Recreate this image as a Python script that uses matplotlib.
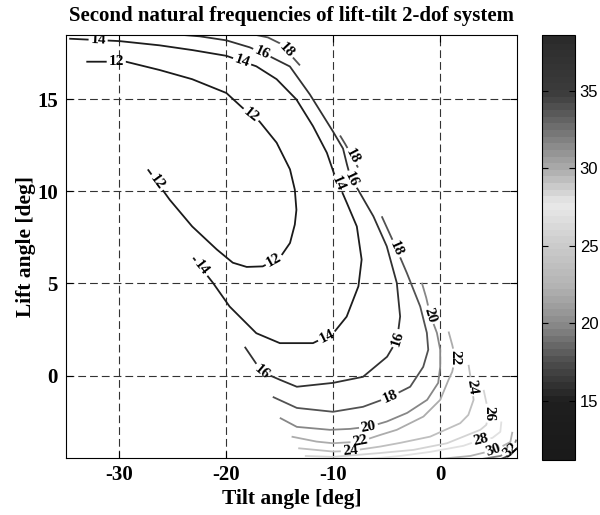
import numpy as np
import matplotlib.pyplot as plt
from matplotlib.contour import ContourSet
from matplotlib.colors import LinearSegmentedColormap, Normalize
from matplotlib.cm import ScalarMappable

plt.rcParams['font.family'] = ['Liberation Serif', 'DejaVu Serif']
plt.rcParams['axes.unicode_minus'] = False

# contour lines, points are (tilt [deg], lift [deg])
levels = [12, 14, 16, 18, 20, 22, 24, 26, 28, 30, 32, 34]

f12 = [[(-33.1, 17.05), (-29.4, 17.05), (-26.25, 16.6), (-23.2, 16.1), (-20.0, 15.35),
        (-18.5, 14.55), (-16.9, 13.8), (-15.3, 12.65), (-14.05, 11.2), (-13.6, 10.1),
        (-13.45, 9.0), (-13.6, 8.2), (-14.05, 7.2), (-15.0, 6.4), (-16.6, 5.93),
        (-18.1, 5.9), (-19.4, 6.13), (-20.9, 6.85), (-23.2, 8.1), (-25.3, 9.55),
        (-27.35, 11.2)]]
f14 = [[(-34.7, 18.3), (-30.0, 18.17), (-26.25, 17.94), (-23.16, 17.68), (-20.0, 17.37),
        (-17.2, 16.8), (-15.3, 16.1), (-13.45, 15.0), (-11.9, 13.55), (-10.6, 12.1),
        (-9.95, 11.0), (-8.75, 9.4), (-7.8, 8.1), (-7.35, 6.3), (-7.65, 4.85),
        (-8.75, 3.2), (-10.0, 2.3), (-11.9, 1.76), (-15.0, 1.76), (-17.2, 2.3),
        (-19.7, 3.75), (-21.25, 5.03), (-23.1, 6.4)]]
f16 = [[(-24.84, 18.54), (-22.5, 18.43), (-20.0, 18.21), (-17.81, 17.83), (-15.94, 17.34),
        (-14.06, 16.79), (-12.19, 15.27), (-10.03, 13.26), (-9.09, 12.33), (-8.72, 11.46),
        (-8.34, 10.65), (-7.69, 10.1), (-6.25, 8.65), (-5.0, 7.02), (-4.06, 5.03),
        (-3.75, 3.21), (-4.03, 1.94), (-4.97, 1.02), (-7.22, -0.07), (-10.03, -0.4),
        (-13.41, -0.61), (-15.0, -0.23), (-16.69, 0.2), (-18.28, 1.56)]]
f18 = [[(-17.53, 18.54), (-16.12, 18.37), (-15.0, 18.05), (-14.34, 17.61), (-13.78, 17.28),
        (-13.12, 16.85)],
       [(-9.37, 13.04), (-8.91, 12.6), (-8.44, 12.12), (-8.06, 11.68), (-7.69, 11.3)],
       [(-5.47, 8.65), (-4.22, 7.06), (-3.12, 5.57), (-1.87, 3.75), (-1.25, 2.32),
        (-1.12, 1.4), (-1.59, 0.47), (-2.81, -0.61), (-4.69, -1.16), (-7.22, -1.7),
        (-10.03, -1.97), (-13.41, -1.76), (-15.66, -1.16)]]
f20 = [[(-1.72, 5.04), (-1.31, 4.23), (-0.94, 3.3), (-0.31, 2.32), (0.0, 1.4),
        (0.0, 0.47), (-0.19, -0.4), (-1.22, -1.32), (-3.09, -2.03), (-5.0, -2.5),
        (-6.56, -2.77), (-8.44, -2.9), (-10.31, -2.95), (-13.41, -2.79), (-15.0, -2.3)]]
f22 = [[(0.78, 2.39), (1.12, 1.67), (1.41, 0.96), (1.12, 0.2), (0.78, -0.23),
        (0.0, -1.32), (-1.57, -2.23), (-4.06, -2.95), (-5.62, -3.23), (-7.5, -3.59),
        (-10.03, -3.68), (-11.56, -3.59), (-13.9, -3.32)]]
f24 = [[(2.65, 0.58), (2.97, -0.6), (3.12, -1.32), (2.63, -2.14), (1.87, -2.59),
        (-0.94, -3.32), (-3.75, -3.66), (-5.62, -3.86), (-8.44, -4.1), (-10.03, -4.13),
        (-13.28, -3.95)]]
f26 = [[(4.06, -0.78), (4.53, -2.05), (4.31, -2.68), (3.75, -2.95), (0.63, -3.68),
        (-2.5, -4.04), (-5.62, -4.21), (-10.03, -4.42), (-12.66, -4.37)]]
f28 = [[(5.72, -2.5), (5.62, -3.06), (4.88, -3.39), (3.75, -3.5), (2.16, -3.82),
        (-0.94, -4.15), (-3.75, -4.37), (-6.56, -4.53)]]
f30 = [[(6.75, -3.06), (6.56, -3.61), (5.16, -4.04), (2.81, -4.37), (0.0, -4.53)]]
f32 = [[(7.12, -3.48), (6.75, -4.04), (5.62, -4.37), (3.75, -4.55)]]
f34 = [[(7.22, -3.92), (6.56, -4.32), (5.62, -4.55)]]

# where the inline labels sit
lab12 = [(-30.3, 16.95), (-17.65, 14.2), (-15.4, 6.1), (-26.7, 10.4)]
lab14 = [(-32.0, 18.15), (-18.6, 16.95), (-9.7, 10.4), (-10.6, 2.1), (-22.4, 5.8)]
lab16 = [(-16.7, 17.5), (-8.4, 10.6), (-4.0, 2.0), (-16.7, 0.2)]
lab18 = [(-14.5, 17.6), (-8.25, 11.9), (-4.1, 6.9), (-4.7, -1.15)]
lab20 = [(-0.9, 3.3), (-6.7, -2.8)]
lab22 = [(1.4, 0.95), (-7.5, -3.6)]
lab24 = [(3.0, -0.6), (-8.4, -4.1)]
lab26 = [(4.5, -2.05)]
lab28 = [(3.8, -3.45)]
lab30 = [(5.0, -4.0)]
lab32 = [(6.6, -4.1)]
lab34 = []

cbar_ticks = [15, 20, 25, 30, 35]
zmin, zmax = 11.2, 38.6

lines = [f12, f14, f16, f18, f20, f22, f24, f26, f28, f30, f32, f34]
labels = [lab12, lab14, lab16, lab18, lab20, lab22, lab24, lab26, lab28, lab30, lab32, lab34]

# grey map: dark at both ends, light around 28
cmap = LinearSegmentedColormap.from_list('mgray', [
    (0.0, (0.10,) * 3), (0.139, (0.12,) * 3), (0.23, (0.30,) * 3), (0.321, (0.54,) * 3),
    (0.41, (0.70,) * 3), (0.504, (0.79,) * 3), (0.58, (0.88,) * 3), (0.60, (0.91,) * 3),
    (0.62, (0.88,) * 3), (0.686, (0.69,) * 3), (0.777, (0.47,) * 3), (0.869, (0.24,) * 3),
    (1.0, (0.17,) * 3)], N=64)
norm = Normalize(zmin, zmax)

fig = plt.figure(figsize=(6, 5.15), dpi=100)
ax = fig.add_axes([0.110, 0.110, 0.752, 0.822])

allsegs = [[np.array(s) for s in segs] for segs in lines]
cs = ContourSet(ax, levels, allsegs, cmap=cmap, norm=norm, linewidths=1.3)

# set up label props once, then put each label on its own level
cs.clabel(manual=[], inline=True, fontsize=11, colors='k', fmt='%d')
cs.labelCValueList = [0] * len(levels)
for i, pts in enumerate(labels):
    cs.labelIndiceList = [i]
    for x, y in pts:
        cs.add_label_near(x, y, inline=True, inline_spacing=2)
for t in cs.labelTexts:
    t.set_fontweight('bold')

ax.set_xlim(-35, 7.2)
ax.set_ylim(-4.5, 18.5)
ax.set_xticks([-30, -20, -10, 0])
ax.set_yticks([0, 5, 10, 15])
ax.grid(True, color='0.2', linestyle=(0, (7, 3.6)), linewidth=0.8)
ax.tick_params(direction='in', top=True, right=True, length=5, labelsize=15)
ax.tick_params(axis='x', pad=5)
ax.tick_params(axis='y', pad=6)
for t in ax.get_xticklabels() + ax.get_yticklabels():
    t.set_fontweight('bold')
ax.set_title('Second natural frequencies of lift-tilt 2-dof system',
             fontsize=15, fontweight='bold', pad=10)
ax.set_xlabel('Tilt angle [deg]', fontsize=15.5, fontweight='bold', labelpad=3)
ax.set_ylabel('Lift angle [deg]', fontsize=15.5, fontweight='bold', labelpad=1)

cax = fig.add_axes([0.903, 0.107, 0.055, 0.825])
sm = ScalarMappable(norm=norm, cmap=cmap)
cb = fig.colorbar(sm, cax=cax)
cb.solids.set_edgecolor('face')
cb.set_ticks(cbar_ticks)
cax.tick_params(direction='in', left=True, right=True, length=4, labelsize=12)
for t in cax.get_yticklabels():
    t.set_fontfamily(['Liberation Sans', 'DejaVu Sans'])

fig.savefig('out.png', dpi=100)
